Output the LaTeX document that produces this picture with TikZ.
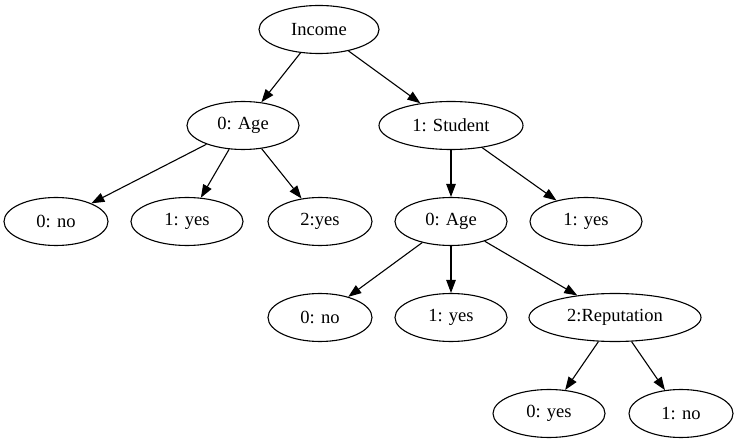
\documentclass[tikz,border=0pt]{standalone}
\usepackage{fontspec}
\setmainfont{Liberation Serif}
\usetikzlibrary{arrows.meta, shapes.geometric}
\definecolor{treeLine}{HTML}{000000}

\begin{document}
\begin{tikzpicture}[x=1bp, y=-1bp,
    tnode/.style={draw=treeLine, ellipse, line width=1.1bp, minimum height=48bp,
      inner sep=0pt, font=\fontsize{18.6}{22}\selectfont},
    tedge/.style={-{Triangle[length=13bp, width=9.5bp]}, line width=1.1bp, treeLine}]
    \useasboundingbox (0,0) rectangle (737,443);

    % rank 0 and 1
    \node[tnode, minimum width=120bp] (income) at (319, 29.5) {Income};
    \node[tnode, minimum width=112bp] (ageL) at (243, 125.5) {0: Age};
    \node[tnode, minimum width=144bp] (student) at (451, 125.5) {1: Student};

    % rank 2
    \node[tnode, minimum width=104bp] (noA) at (56, 221.5) {0: no};
    \node[tnode, minimum width=112bp] (yesA) at (187, 221.5) {1: yes};
    \node[tnode, minimum width=104bp] (yesB) at (320, 221.5) {2:yes};
    \node[tnode, minimum width=112bp] (ageR) at (451, 221.5) {0: Age};
    \node[tnode, minimum width=112bp] (yesC) at (586, 221.5) {1: yes};

    % rank 3
    \node[tnode, minimum width=104bp] (noB) at (320, 317.5) {0: no};
    \node[tnode, minimum width=112bp] (yesD) at (451, 317.5) {1: yes};
    \node[tnode, minimum width=172bp] (reput) at (615, 317.5) {2:Reputation};

    % rank 4
    \node[tnode, minimum width=112bp] (yesE) at (549, 413.5) {0: yes};
    \node[tnode, minimum width=104bp] (noC) at (681, 413.5) {1: no};

    \draw[tedge] (income) -- (ageL);
    \draw[tedge] (income) -- (student);
    \draw[tedge] (ageL) -- (noA);
    \draw[tedge] (ageL) -- (yesA);
    \draw[tedge] (ageL) -- (yesB);
    \draw[tedge] (student) -- (ageR);
    \draw[tedge] (student) -- (yesC);
    \draw[tedge] (ageR) -- (noB);
    \draw[tedge] (ageR) -- (yesD);
    \draw[tedge] (ageR) -- (reput);
    \draw[tedge] (reput) -- (yesE);
    \draw[tedge] (reput) -- (noC);
  \end{tikzpicture}
\end{document}
